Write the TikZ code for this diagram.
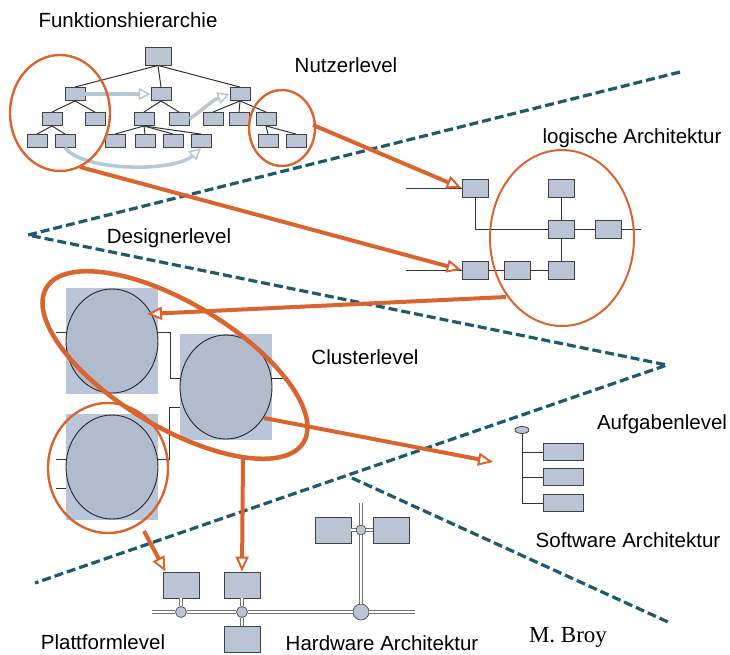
\documentclass[tikz,border=0pt]{standalone}
\usepackage{fontspec}
\setmainfont{Liberation Sans}
\newfontfamily\broyfont{Liberation Serif}
\usetikzlibrary{arrows.meta,calc,shapes.geometric}

\definecolor{Rust}{HTML}{D9642E}
\definecolor{Teal}{HTML}{1E5A6E}
\definecolor{BoxBlue}{HTML}{BAC4D4}
\definecolor{PaleArrow}{HTML}{B5C7D8}
\definecolor{CluBlue}{HTML}{BAC5D9}
\definecolor{CluDisc}{HTML}{B0BCCE}

\tikzset{
  box/.style={draw=black!75, fill=BoxBlue, line width=0.9pt, inner sep=0pt, minimum width=20pt, minimum height=13pt},
  bigbox/.style={box, minimum width=26pt, minimum height=18pt},
  taskbox/.style={box, minimum width=40pt, minimum height=17pt},
  hwbox/.style={box, minimum width=36pt, minimum height=26pt},
  hwdot/.style={circle, draw=black!65, fill=BoxBlue, line width=0.8pt, inner sep=0pt, minimum size=#1},
  clusq/.style={fill=CluBlue, inner sep=0pt, minimum width=92pt, minimum height=106pt},
  tree/.style={black!80, line width=1pt},
  wire/.style={black!80, line width=0.9pt},
  dbl/.style={draw=black!55, line width=1.1pt, double=white, double distance=2.6pt},
  levelline/.style={Teal, line width=3.2pt, dash pattern=on 9pt off 4pt},
  ring/.style={Rust, line width=2.4pt},
  orarrow/.style={Rust, line width=4pt, -{Triangle[length=15pt, width=13pt, line width=2pt, fill=white]}},
  pale/.style={PaleArrow, line width=3.5pt, -{Triangle[length=12pt, width=12pt, line width=1.5pt, fill=white]}},
  lbl/.style={inner sep=0pt, font=\fontsize{20.5}{22}\selectfont}
}

\begin{document}
\begin{tikzpicture}[x=1pt, y=-1pt]
\useasboundingbox (0,0) rectangle (730,654);

% level boundaries
\draw[levelline] (680,72) -- (28,235) -- (667,365) -- (35,583);
\draw[levelline] (352,478) -- (668,622);

% Funktionshierarchie
\node[bigbox] (f0) at (158,56) {};
\node[box] (f1a) at (75,94) {};
\node[box] (f1b) at (161,94) {};
\node[box] (f1c) at (240,94) {};
\node[box] (f2a) at (52,119) {};
\node[box] (f2b) at (95,119) {};
\node[box] (f2c) at (144,119) {};
\node[box] (f2d) at (179,119) {};
\node[box] (f2e) at (213,119) {};
\node[box] (f2f) at (239,119) {};
\node[box] (f2g) at (266,119) {};
\node[box] (f3a) at (37,141) {};
\node[box] (f3b) at (65,141) {};
\node[box] (f3c) at (115,141) {};
\node[box] (f3d) at (145,141) {};
\node[box] (f3e) at (173,141) {};
\node[box] (f3f) at (201,141) {};
\node[box] (f3g) at (268,141) {};
\node[box] (f3h) at (296,141) {};
\foreach \p/\c in {f0/f1a, f0/f1b, f0/f1c, f1a/f2a, f1a/f2b, f2a/f3a, f2a/f3b,
                   f1b/f2c, f1b/f2d, f2c/f3c, f2c/f3d, f2c/f3e, f2c/f3f,
                   f1c/f2e, f1c/f2f, f1c/f2g, f2g/f3g, f2g/f3h}
  \draw[tree] (\p.south) -- (\c.north);
\draw[pale] (f1a.east) -- (f1b.west);
\draw[pale] (f2d.east) to[out=35, in=200] (f1c.west);
\draw[pale] (f3b.south) .. controls (85,172) and (175,172) .. (f3f.south);
\draw[ring] (60,113) ellipse [x radius=50, y radius=58];
\draw[ring] (282,128) ellipse [x radius=33, y radius=38];

% logische Architektur
\node[bigbox] (la) at (475,188) {};
\node[bigbox] (lb) at (561,188) {};
\node[bigbox] (lc) at (561,229) {};
\node[bigbox] (ld) at (608,229) {};
\node[bigbox] (le) at (475,270) {};
\node[bigbox] (lf) at (517,270) {};
\node[bigbox] (lg) at (561,270) {};
\coordinate (lin1) at (406,188);
\coordinate (lin2) at (406,270);
\coordinate (lout) at (641,229);
\draw[wire] (lin1) -- (la.west);
\draw[wire] (la.south) |- (lc.west);
\draw[wire] (lc) -- (ld);
\draw[wire] (ld.east) -- (lout);
\draw[wire] (lb) -- (lc);
\draw[wire] (lc) -- (lg);
\draw[wire] (lin2) -- (le.west);
\draw[wire] (le) -- (lf);
\draw[wire] (lf) -- (lg);
\draw[Rust, line width=2pt] (562,238) ellipse [x radius=72, y radius=88];

% Cluster
\node[clusq] (c1) at (112,341) {};
\node[clusq] (c2) at (226,387) {};
\node[clusq] (c3) at (112,467) {};
\foreach \c in {c1,c2,c3}
  \draw[black!85, fill=CluDisc, line width=0.9pt] (\c.center) ellipse [x radius=46, y radius=52];
\draw[wire] ([yshift=9pt]c1.west) -- ++(-10,0);
\draw[wire] ([yshift=9pt]c1.east) -- ++(12,0) |- ([yshift=9pt]c2.west);
\draw[wire] ([yshift=9pt]c2.east) -- ++(11,0);
\draw[wire] ([yshift=-20pt]c2.west) -- ++(-10,0) |- ([yshift=8pt]c3.east);
\draw[wire] ([yshift=8pt]c3.west) -- ++(-10,0);
\draw[wire] ([yshift=-21pt]c3.west) -- ++(-10,0);
\draw[Rust, line width=4.5pt, rotate around={-31:(175,365)}] (175,365) ellipse [x radius=150, y radius=62];
\draw[ring] (108,468) ellipse [x radius=60, y radius=65];

% Software Architektur
\node[draw=black!75, fill=BoxBlue, line width=0.8pt, ellipse, inner sep=0pt, minimum width=14pt, minimum height=7pt] (sroot) at (522,430) {};
\node[taskbox] (s1) at (563,452) {};
\node[taskbox] (s2) at (563,477) {};
\node[taskbox] (s3) at (563,503) {};
\draw[wire] (sroot.south) |- (s3.west);
\draw[wire] (sroot.south |- s1.west) -- (s1.west);
\draw[wire] (sroot.south |- s2.west) -- (s2.west);

% Hardware Architektur
\node[hwbox] (h1) at (181,585) {};
\node[hwbox] (h2) at (242,585) {};
\node[hwbox] (h3) at (242,639) {};
\node[hwbox] (h4) at (333,530) {};
\node[hwbox] (h5) at (391,530) {};
\node[hwdot=11pt] (b1) at (181,612) {};
\node[hwdot=11pt] (b2) at (242,612) {};
\node[hwdot=16pt] (b3) at (361,612) {};
\node[hwdot=10pt] (b4) at (361,530) {};
\coordinate (busL) at (152,612);
\coordinate (busR) at (415,612);
\coordinate (mastT) at (361,503);
\draw[dbl] (busL) -- (b1.west);
\draw[dbl] (b1.east) -- (b2.west);
\draw[dbl] (b2.east) -- (b3.west);
\draw[dbl] (b3.east) -- (busR);
\draw[dbl] (mastT) -- (b4.north);
\draw[dbl] (b4.south) -- (b3.north);
\draw[dbl] (h4.east) -- (b4.west);
\draw[dbl] (b4.east) -- (h5.west);
\draw[dbl] (h1.south) -- (b1.north);
\draw[dbl] (h2.south) -- (b2.north);
\draw[dbl] (b2.south) -- (h3.north);

% refinement arrows
\coordinate (o1) at (313,125);
\coordinate (o2) at (80,167);
\coordinate (o3) at (506,297);
\coordinate (t3) at (147,314);
\coordinate (o4) at (264,418);
\coordinate (t4) at (493,462);
\coordinate (o5) at (243,457);
\coordinate (o6) at (144,531);
\draw[orarrow] (o1) -- (la.west);
\draw[orarrow] (o2) -- (le.west);
\draw[orarrow] (o3) -- (t3);
\draw[orarrow] (o4) -- (t4);
\draw[orarrow] (o5) -- (h2.north);
\draw[orarrow] (o6) -- ([xshift=3pt]h1.north west);

% labels
\node[lbl] (tfkt) at (128,20) {Funktionshierarchie};
\node[lbl] (tnutz) at (346,65) {Nutzerlevel};
\node[lbl] (tlog) at (632,138) {logische Architektur};
\node[lbl] (tdes) at (169,238) {Designerlevel};
\node[lbl] (tclu) at (365,357) {Clusterlevel};
\node[lbl] (tauf) at (662,424) {Aufgabenlevel};
\node[lbl] (tsw) at (628,540) {Software Architektur};
\node[lbl] (tplat) at (103,642) {Plattformlevel};
\node[lbl] (thw) at (382,643) {Hardware Architektur};
\node[inner sep=0pt, font=\broyfont\fontsize{23}{25}\selectfont] (tbroy) at (568,637) {M. Broy};
\end{tikzpicture}
\end{document}
